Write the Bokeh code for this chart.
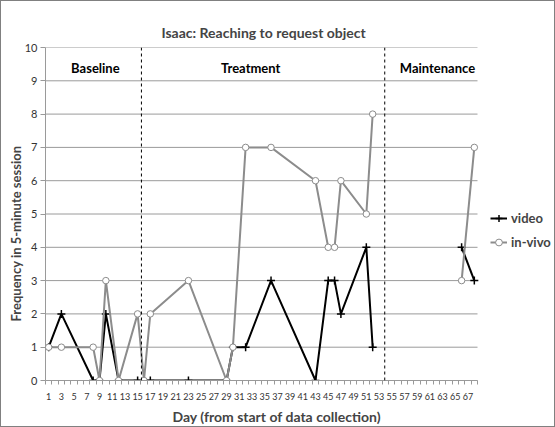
from bokeh.plotting import figure
from bokeh.models import (Range1d, FixedTicker, Span, Label, Legend, LegendItem, Title)
from bokeh.embed import file_html
from bokeh.resources import INLINE

# ---- data ----
days_bt = [1, 3, 8, 9, 10, 12, 15, 16, 17, 23, 29, 30, 32, 36, 43, 45, 46, 47, 51, 52]
video_bt = [1, 2, 0, 0, 2, 0, 0, 0, 0, 0, 0, 1, 1, 3, 0, 3, 3, 2, 4, 1]
invivo_bt = [1, 1, 1, 0, 3, 0, 2, 0, 2, 3, 0, 1, 7, 7, 6, 4, 4, 6, 5, 8]

days_m = [66, 68]
video_m = [4, 3]
invivo_m = [3, 7]

phase_names = ["Baseline", "Treatment", "Maintenance"]
phase_changes = [15.6, 53.9]
x_tick_labels = list(range(1, 68, 2))
y_ticks = list(range(0, 11))
day_first, day_last = 1, 68

FONT = "Lato"
GRID = "#9a9a9a"
GRAY = "#8c8c8c"

# plot area 44..476 px holds days 0.5..68.5; the frame runs on to the right edge
px_per_day = 432 / 68
frame_w = 555 - 44
x_end = 0.5 + frame_w / px_per_day

p = figure(width=555, height=427, output_backend="svg", toolbar_location=None,
           x_range=Range1d(0.5, x_end), y_range=Range1d(0, 10),
           min_border_left=44, min_border_right=0, min_border_top=46, min_border_bottom=48)
p.outline_line_color = None
p.background_fill_color = "white"
p.border_fill_color = "white"
p.styles = {"border": "1px solid #808080", "box-sizing": "border-box"}

# title
p.add_layout(Title(text="Isaac: Reaching to request object", align="left", offset=116,
                   text_font=FONT, text_font_size="14px", text_font_style="bold",
                   standoff=14), "above")

# grid (horizontal lines, only across the plotted days)
p.xgrid.grid_line_color = None
p.ygrid.grid_line_color = None
p.segment(x0=[day_first - 0.5] * len(y_ticks), x1=[day_last + 0.5] * len(y_ticks),
          y0=y_ticks, y1=y_ticks, line_color=GRID, line_width=1)

# y axis
p.yaxis.ticker = FixedTicker(ticks=y_ticks)
p.yaxis.axis_line_color = GRID
p.yaxis.major_tick_line_color = GRID
p.yaxis.major_tick_out = 5
p.yaxis.major_tick_in = 0
p.yaxis.minor_tick_line_color = None
p.yaxis.major_label_text_font = FONT
p.yaxis.major_label_text_font_size = "11px"
p.yaxis.major_label_text_color = "#333333"
p.yaxis.major_label_standoff = 3
p.add_layout(Title(text="Frequency in 5-minute session", align="left", offset=59,
                   text_font=FONT, text_font_size="13px", text_font_style="bold",
                   standoff=-4), "left")

# x axis
p.xaxis.ticker = FixedTicker(ticks=x_tick_labels,
                             minor_ticks=[d + 0.5 for d in range(0, 69)])
p.xaxis.bounds = (day_first - 0.5, day_last + 0.5)
p.xaxis.axis_line_color = GRID
p.xaxis.major_tick_line_color = None
p.xaxis.minor_tick_line_color = GRID
p.xaxis.minor_tick_out = 4
p.xaxis.minor_tick_in = 0
p.xaxis.major_label_text_font = FONT
p.xaxis.major_label_text_font_size = "9px"
p.xaxis.major_label_text_color = "#333333"
p.xaxis.major_label_standoff = 6
p.add_layout(Title(text="Day (from start of data collection)", align="left", offset=127,
                   text_font=FONT, text_font_size="14px", text_font_style="bold",
                   standoff=6), "below")

# phase change lines
for loc in phase_changes:
    p.add_layout(Span(location=loc, dimension="height", line_color="black",
                      line_width=1, line_dash="3 3"))

# series
vl1 = p.line(days_bt, video_bt, line_color="black", line_width=2)
vm1 = p.scatter(days_bt, video_bt, marker="cross", size=8, line_color="black", line_width=1.5)
vl2 = p.line(days_m, video_m, line_color="black", line_width=2)
vm2 = p.scatter(days_m, video_m, marker="cross", size=8, line_color="black", line_width=1.5)

il1 = p.line(days_bt, invivo_bt, line_color=GRAY, line_width=2)
im1 = p.scatter(days_bt, invivo_bt, marker="circle", size=6.5, line_color=GRAY,
                fill_color="white", line_width=1)
il2 = p.line(days_m, invivo_m, line_color=GRAY, line_width=2)
im2 = p.scatter(days_m, invivo_m, marker="circle", size=6.5, line_color=GRAY,
                fill_color="white", line_width=1)

legend = Legend(items=[LegendItem(label="video", renderers=[vl1, vm1]),
                       LegendItem(label="in-vivo", renderers=[il1, im1])],
                location=(445, 128), background_fill_alpha=0, border_line_color=None,
                label_text_font=FONT, label_text_font_style="bold",
                label_text_font_size="13px", glyph_width=17, spacing=4,
                label_standoff=4, padding=2, margin=0)
p.add_layout(legend)

# phase labels
for name, xc in zip(phase_names, [8.35, 32.8, 62.2]):
    p.add_layout(Label(x=xc, y=9.37, text=name, text_font=FONT, text_font_size="13px",
                       text_font_style="bold", text_align="center", text_baseline="middle",
                       text_color="black"))

open("out.html", "w").write(file_html(p, INLINE))
